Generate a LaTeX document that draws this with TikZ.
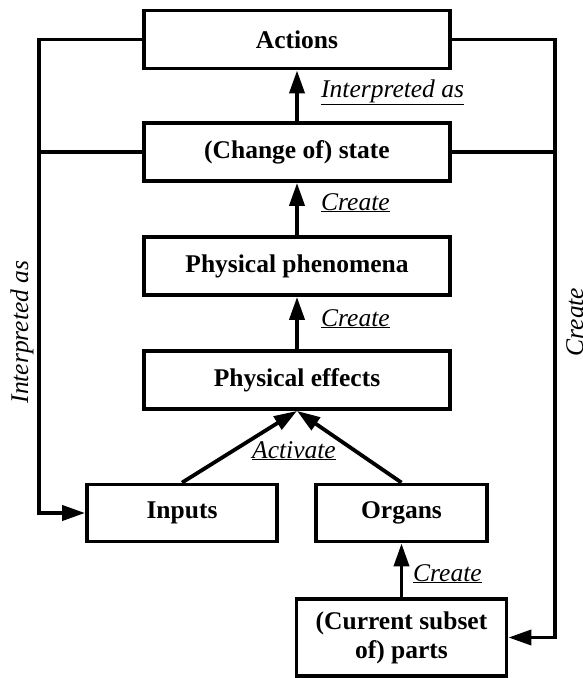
\documentclass[tikz,border=0pt]{standalone}
\usepackage{fontspec}
\setmainfont{Liberation Serif}
\usetikzlibrary{arrows.meta}
\begin{document}
\begin{tikzpicture}[x=1pt,y=-1pt,
  box/.style={draw, line width=3.8pt, minimum width=306pt, minimum height=58pt,
    inner sep=0pt, font=\fontsize{25.5}{28}\selectfont\bfseries, align=center},
  conn/.style={line width=3.8pt},
  arr/.style={line width=3.8pt, -{Triangle[length=23pt,width=15pt]}},
  lbl/.style={font=\fontsize{25.5}{28}\selectfont\itshape, inner sep=0pt},
]
\useasboundingbox (0,0) rectangle (582,678);

\node[box] (act) at (297,39.5) {Actions};
\node[box] (state) at (297,152) {(Change of) state};
\node[box] (phen) at (297,266) {Physical phenomena};
\node[box] (eff) at (297,380) {Physical effects};
\node[box, minimum width=190pt, minimum height=57pt] (inputs) at (182,513) {Inputs};
\node[box, minimum width=171pt, minimum height=57pt] (organs) at (401.5,513) {Organs};
\node[box, minimum width=210pt, minimum height=77pt] (parts) at (401.5,637.5) {(Current subset\\[1pt]of) parts};

\coordinate (lb) at (39,513);
\coordinate (rb) at (555,637.5);

\draw[arr] (state) -- (act);
\draw[arr] (phen) -- (state);
\draw[arr] (eff) -- (phen);
\draw[arr] (inputs.north) -- (eff.south);
\draw[arr] (organs.north) -- (eff.south);
\draw[arr] (parts) -- (organs);

\draw[arr] (act.west) -| (lb) -- (inputs.west);
\draw[conn] (state.west) -- (state.west -| lb);
\draw[arr] (act.east) -| (rb) -- (parts.east);
\draw[conn] (state.east) -- (state.east -| rb);

\node[lbl, anchor=base west] (l1) at (321,97) {\underline{Interpreted as}};
\node[lbl, anchor=base west] (l2) at (321,210) {\underline{Create}};
\node[lbl, anchor=base west] (l3) at (321,326) {\underline{Create}};
\node[lbl, anchor=base west] (l4) at (252,458) {\underline{Activate}};
\node[lbl, anchor=base west] (l5) at (413,581) {\underline{Create}};
\node[lbl, anchor=base, rotate=90] (l6) at (28,332) {Interpreted as};
\node[lbl, anchor=base, rotate=90] (l7) at (583,322) {Create};
\end{tikzpicture}
\end{document}
